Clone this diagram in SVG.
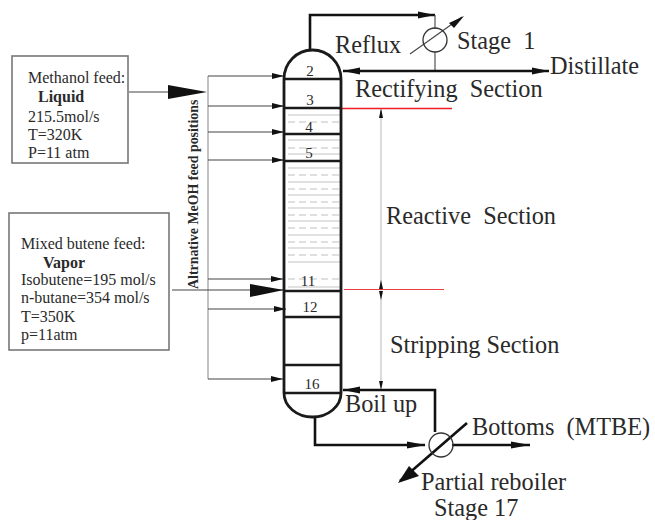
<svg xmlns="http://www.w3.org/2000/svg" width="655" height="520" viewBox="0 0 655 520">
<style>
text{font-family:"Liberation Serif","Times New Roman",serif;fill:#2a2a2a}
.box{fill:#fff;stroke:#777;stroke-width:1.6}
.t{font-size:16px}
.b{font-size:16px;font-weight:bold}
.l{font-size:24.300px}
.n{font-size:15px;text-anchor:middle}
.col{fill:none;stroke:#1a1a1a;stroke-width:2.800}
.tray{stroke:#1a1a1a;stroke-width:2.400}
.pipe{fill:none;stroke:#111;stroke-width:2.600}
.thin{fill:none;stroke:#444;stroke-width:1.100}
.gray{stroke:#c4c4c4;stroke-width:1.200;fill:none}
.dash{stroke:#c0c0c0;stroke-width:1;stroke-dasharray:7 4;fill:none}
.fill{fill:#111;stroke:none}
</style>
<defs>
<marker id="s" markerWidth="12" markerHeight="6" refX="12" refY="3" orient="auto" markerUnits="userSpaceOnUse"><path d="M0 0L12 3L0 6Z" fill="#111"/></marker>
</defs>
<g id="connectors">
<path class="pipe" d="M310 50V15H435"/><path class="fill" d="M418 11.500L435 15L418 18.500Z"/>
<path class="thin" d="M435 15V29M435 52V71"/>
<path class="pipe" d="M343 71H549"/><path class="fill" d="M343 71L360 67.500V74.500Z"/><path class="fill" d="M549 71L532 67.500V74.500Z"/>
<path class="thin" d="M410 54L462 17"/><path class="fill" d="M464 16L449 23L454 28Z"/>
<circle cx="435" cy="40" r="12" fill="none" stroke="#333" stroke-width="1.300"/>
<path class="thin" d="M129 92H170"/><path class="fill" d="M168 85L207 92L168 99Z"/>
<path class="gray" d="M208 76V379" style="stroke:#999"/>
<path class="thin" d="M208 76H284" marker-end="url(#s)"/>
<path class="thin" d="M208 106H284" marker-end="url(#s)"/>
<path class="thin" d="M208 132H284" marker-end="url(#s)"/>
<path class="thin" d="M208 160H284" marker-end="url(#s)"/>
<path class="thin" d="M208 279H283" marker-end="url(#s)"/>
<path class="thin" d="M208 309H286" marker-end="url(#s)"/>
<path class="thin" d="M208 379H283" marker-end="url(#s)"/>
<path class="thin" d="M172 290H284"/><path class="fill" d="M250 284L284 290L250 297Z"/>
<path class="gray" d="M381 110V388"/>
<path class="fill" d="M381 108L379 118H383Z"/><path class="fill" d="M381 280L379 289H383Z"/><path class="fill" d="M381 300L379 291H383Z"/><path class="fill" d="M381 390L379 381H383Z"/>
<path d="M338 108.500H452" stroke="#f01c24" stroke-width="1.300" fill="none"/>
<path d="M344 289.500H444" stroke="#f03a42" stroke-width="1.200" fill="none"/>
<path class="pipe" d="M343 390H435V432"/><path class="fill" d="M343 390L360 386.500V393.500Z"/>
<path class="pipe" d="M315 417V445H425"/><path class="fill" d="M426 445L407 441.500V448.500Z"/>
<path class="pipe" d="M452 445H530"/><path class="fill" d="M530 445L511 441.500V448.500Z"/>
<path class="pipe" d="M467 423L400 481"/><path class="fill" d="M398 483L409 466L419 476Z"/>
<circle cx="441" cy="445" r="12" fill="none" stroke="#333" stroke-width="1.300"/>
</g>
<g id="column">
<path class="dash" d="M288 122H340M288 148H340M288 175H340M288 189H340M288 202H340M288 215H340M288 228H340M288 242H340M288 255H340M288 279H340"/>
<path class="gray" d="M288 115H340M288 140H340M288 154H340M288 168H340M288 182H340M288 195H340M288 208H340M288 221H340M288 235H340M288 248H340M288 262H340M288 287H340"/>
<path class="col" d="M284 79A28.500 29 0 0 1 341 79V393A28.500 24 0 0 1 284 393Z"/>
<path class="tray" d="M284 79H341M284 108H341M284 134H341M284 161H341M284 291H341M284 317H341M284 365H341M284 393H341"/>
<text class="n" x="310" y="76">2</text>
<text class="n" x="310" y="105">3</text>
<text class="n" x="309" y="132">4</text>
<text class="n" x="309" y="158">5</text>
<text class="n" x="308" y="286">11</text>
<text class="n" x="310" y="312">12</text>
<text class="n" x="312" y="389">16</text>
</g>
<g id="methanol-feed">
<rect class="box" x="12" y="56" width="116" height="107"/>
<text class="t" x="28" y="83">Methanol feed:</text>
<text class="b" x="38" y="102">Liquid</text>
<text class="t" x="28" y="122">215.5mol/s</text>
<text class="t" x="28" y="140">T=320K</text>
<text class="t" x="28" y="158">P=11 atm</text>
</g>
<g id="butene-feed">
<rect class="box" x="9" y="213" width="160" height="137"/>
<text class="t" x="21" y="249">Mixed butene feed:</text>
<text class="b" x="43" y="268">Vapor</text>
<text class="t" x="21" y="285">Isobutene=195 mol/s</text>
<text class="t" x="21" y="303">n-butane=354 mol/s</text>
<text class="t" x="21" y="322">T=350K</text>
<text class="t" x="21" y="340">p=11atm</text>
</g>
<g id="labels">
<text font-size="13.900" font-weight="bold" transform="translate(198 289) rotate(-90)">Altrnative MeOH feed positions</text>
<text class="l" x="335" y="53">Reflux</text>
<text class="l" x="457" y="49">Stage&#160;&#160;1</text>
<text class="l" x="550" y="74">Distillate</text>
<text class="l" x="355" y="97">Rectifying&#160;&#160;Section</text>
<text class="l" x="386" y="224">Reactive&#160;&#160;Section</text>
<text class="l" x="390" y="353">Stripping Section</text>
<text class="l" x="345" y="412">Boil up</text>
<text class="l" x="472" y="435">Bottoms&#160;&#160;(MTBE)</text>
<text class="l" x="421" y="490">Partial reboiler</text>
<text class="l" x="434" y="516">Stage 17</text>
</g>
</svg>
